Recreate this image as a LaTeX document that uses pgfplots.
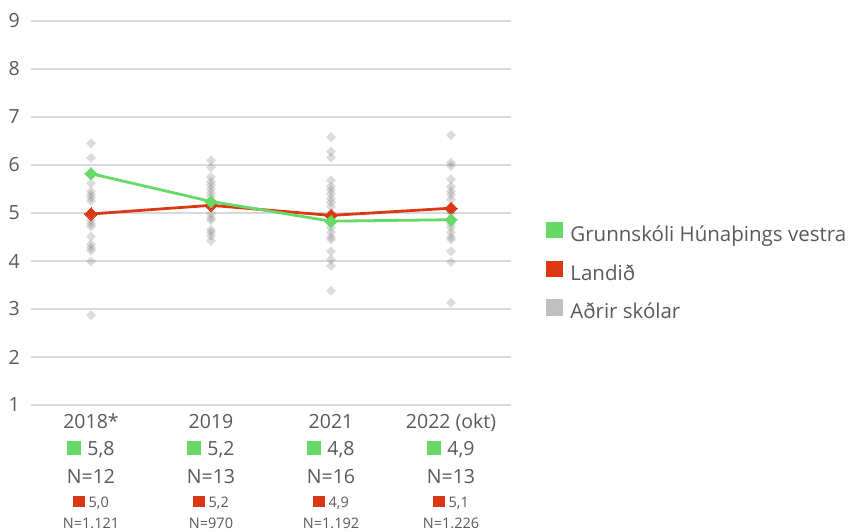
\documentclass[border=0pt]{standalone}
\usepackage{pgfplots}
\pgfplotsset{compat=1.18}
\usepackage{fontspec}
\setmainfont{Open Sans}
\definecolor{cgreen}{HTML}{66D966}
\definecolor{cred}{HTML}{DD3814}
\definecolor{cgray}{HTML}{BFBFBF}
\definecolor{cgrid}{HTML}{D9D9D9}
\definecolor{ctext}{HTML}{595959}
\newcommand{\BF}{\fontsize{19.5}{23}\selectfont}
\newcommand{\LF}{\fontsize{20.5}{24}\selectfont}
\newcommand{\SF}{\fontsize{14.5}{17}\selectfont}
\newcommand{\gsq}{\textcolor{cgreen}{\rule{14pt}{14pt}}\hspace{6pt}}
\newcommand{\rsq}{\textcolor{cred}{\rule{11.5pt}{11.5pt}}\hspace{4pt}}
\newcommand{\lab}[5]{{\renewcommand{\arraystretch}{0}\begin{tabular}{@{}c@{}}\BF\rule[-6pt]{0pt}{24pt}#1\\ \BF\rule[-6pt]{0pt}{27pt}\gsq#2\\ \BF\rule[-6pt]{0pt}{28pt}N=#3\\ \SF\rule[-6pt]{0pt}{24pt}\rsq#4\\ \SF\rule[-6pt]{0pt}{21pt}N=#5\end{tabular}}}
\pgfplotstableread{
x y
0 6.45
0 6.15
0 5.62
0 5.45
0 5.38
0 5.32
0 5.25
0 4.95
0 4.85
0 4.78
0 4.72
0 4.51
0 4.35
0 4.28
0 4.22
0 3.99
0 2.87
1 6.10
1 5.95
1 5.75
1 5.65
1 5.58
1 5.50
1 5.42
1 5.35
1 5.20
1 4.98
1 4.90
1 4.85
1 4.65
1 4.60
1 4.52
1 4.42
2 6.58
2 6.28
2 6.16
2 5.68
2 5.55
2 5.48
2 5.40
2 5.30
2 5.22
2 5.13
2 5.00
2 4.92
2 4.70
2 4.60
2 4.50
2 4.45
2 4.20
2 4.03
2 3.90
2 3.38
3 6.62
3 6.05
3 5.98
3 5.70
3 5.55
3 5.45
3 5.38
3 5.28
3 5.00
3 4.78
3 4.70
3 4.60
3 4.50
3 4.45
3 4.20
3 3.98
3 3.13
}\others
\begin{document}
\begin{tikzpicture}[x=1pt,y=1pt]
\begin{axis}[
  at={(31pt,126pt)}, anchor=south west,
  scale only axis, width=480pt, height=384pt,
  xmin=-0.5, xmax=3.5, ymin=1, ymax=9,
  axis line style={draw=none}, major tick length=0pt,
  ytick={1,2,...,9}, ymajorgrids, grid style={cgrid, line width=2pt},
  xtick={0,1,2,3},
  xticklabels={{\lab{2018*}{5,8}{12}{5,0}{1.121}},{\lab{2019}{5,2}{13}{5,2}{970}},{\lab{2021}{4,8}{16}{4,9}{1.192}},{\lab{2022 (okt)}{4,9}{13}{5,1}{1.226}}},
  xticklabel style={anchor=north, inner sep=0pt, yshift=-5pt, text=ctext},
  yticklabel style={anchor=east, inner sep=0pt, xshift=-11pt, font=\BF, text=ctext},
  /pgf/number format/assume math mode=true,
  clip=false,
  legend style={at={(1.073,0.344)}, anchor=west, draw=none, fill=none, inner sep=0pt, outer sep=0pt, row sep=14pt,
    nodes={inner sep=0pt, text height=15pt, text depth=5pt, font=\LF, text=ctext},
    /tikz/every odd column/.append style={column sep=8pt}},
  legend cell align=left,
]
\addplot[only marks, color=gray, mark=square*, mark size=3.5pt, mark options={rotate=45, draw opacity=0, line width=0pt, fill=gray, fill opacity=0.28}, forget plot] table {\others};
\addplot[cred, line width=2.8pt, mark=square*, mark size=4.35pt, mark options={rotate=45, line width=0pt, fill=cred}, forget plot] coordinates {(0,4.98) (1,5.16) (2,4.95) (3,5.10)};
\addplot[cgreen, line width=2.8pt, mark=square*, mark size=4.35pt, mark options={rotate=45, line width=0pt, fill=cgreen}, forget plot] coordinates {(0,5.82) (1,5.24) (2,4.83) (3,4.86)};
\addlegendimage{legend image code/.code={\fill[cgreen] (0pt,-1pt) rectangle (16pt,14.5pt);}}
\addlegendentry{Grunnskóli Húnaþings vestra}
\addlegendimage{legend image code/.code={\fill[cred] (0pt,-1pt) rectangle (16pt,14.5pt);}}
\addlegendentry{Landið}
\addlegendimage{legend image code/.code={\fill[cgray] (0pt,-1pt) rectangle (16pt,14.5pt);}}
\addlegendentry{Aðrir skólar}
\end{axis}
\pgfresetboundingbox
\path[use as bounding box] (0,0) rectangle (852,531);
\end{tikzpicture}
\end{document}
